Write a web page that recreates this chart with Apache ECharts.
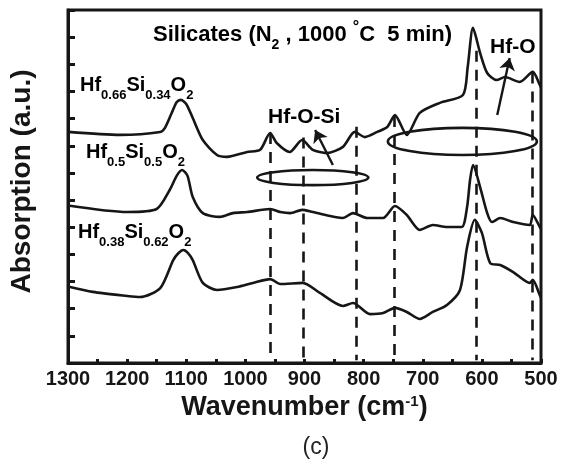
<!DOCTYPE html>
<html><head><meta charset="utf-8">
<script src="https://cdn.jsdelivr.net/npm/echarts/dist/echarts.min.js"></script>
<style>html,body{margin:0;padding:0;background:#fff}#c{width:571px;height:466px}</style>
</head><body><div id="c"></div>
<script>
// ---- data (wavenumber cm^-1, absorption in arbitrary offset units) ----
const topWn = [1300,1212,1144,1136,1124,1116,1109,1100,1089,1072,1048,1031,997,975,958,947,925,904,886,862,835,815,798,777,760,747,727,705,671,632,624,615,603,591,575,561,536,514,502,500];
const topY  = [8.51,8.40,8.51,8.66,9.24,9.61,9.69,9.54,9.02,8.21,7.66,7.59,7.77,7.85,8.47,8.10,7.77,8.21,7.85,7.73,7.96,8.51,8.32,8.51,8.69,9.13,8.40,9.21,9.58,9.87,10.90,12.34,11.42,10.68,10.42,10.53,10.35,10.72,10.24,10.15];
const midWn = [1300,1200,1150,1128,1116,1107,1098,1089,1072,1043,1021,997,958,941,924,904,886,835,818,794,767,747,727,705,683,659,634,625,620,615,603,591,583,569,547,519,514,502,500];
const midY  = [5.80,5.56,5.67,6.37,6.90,7.11,6.90,6.11,5.52,5.38,5.52,5.56,5.67,5.56,5.52,5.64,5.56,5.34,5.52,5.34,5.34,5.78,5.45,4.90,5.08,5.01,5.01,5.75,6.74,7.29,6.48,5.52,5.19,5.34,5.19,5.08,5.45,5.01,4.95];
const botWn = [1300,1258,1200,1178,1144,1122,1113,1105,1097,1089,1072,1048,1014,987,958,941,903,874,835,818,789,767,747,727,705,683,659,637,625,612,600,586,569,547,519,514,502,500];
const botY  = [2.82,2.62,2.47,2.43,2.76,3.79,4.05,4.16,4.05,3.79,2.95,2.69,2.80,2.95,3.09,2.91,2.95,2.58,2.10,2.21,1.80,1.84,2.03,1.88,1.62,1.88,2.14,2.69,4.27,5.27,4.79,3.68,3.61,3.35,2.95,3.06,2.50,2.40];
const seriesNames = ['Hf0.66Si0.34O2','Hf0.5Si0.5O2','Hf0.38Si0.62O2'];
// reference (dashed) lines: wavenumber and top of each dashed line
const dashWn  = [958, 902, 812, 748, 610, 515];
const dashTop = [8.47, 8.3, 8.7, 9.1, 11.5, 10.7];
// annotation arrows [fromWn, fromY, toWn, toY]
const arrowHfOSi = [852, 7.29, 882, 8.58];
const arrowHfO   = [574, 9.13, 553, 11.23];
// annotation ellipses: centre wn, centre y, radius in wn, radius in y
const ellipseWn = [886, 633];
const ellipseY  = [6.83, 8.16];
const ellipseRWn = [94, 126];
const ellipseRY  = [0.28, 0.50];
const xMin = 500, xMax = 1300, xStep = 50;
const yMin = 0, yMax = 13, yStep = 1;

const INK = '#161616';
const FONT = 'Liberation Sans, Arial, sans-serif';
const pairs = (xs, ys) => xs.map((x, i) => [x, ys[i]]);

const base = {fontWeight: 'bold', fontFamily: FONT, color: INK, verticalAlign: 'top'};
const rich = {
  m:  Object.assign({fontSize: 20}, base),
  s:  Object.assign({fontSize: 13, padding: [14, 0, 0, 0]}, base),
  t:  Object.assign({fontSize: 21}, base),
  T:  Object.assign({fontSize: 22, padding: [4, 0, 0, 0]}, base),
  ts: Object.assign({fontSize: 14, padding: [18, 0, 0, 0]}, base),
  tu: Object.assign({fontSize: 16}, base),
  a:  Object.assign({fontSize: 27}, base),
  au: Object.assign({fontSize: 15}, base)
};

const lineSeries = (name, xs, ys) => ({
  name, type: 'line', data: pairs(xs, ys), symbol: 'none', smooth: 0.25,
  lineStyle: {color: INK, width: 2.6}, silent: true, z: 3
});

const chart = echarts.init(document.getElementById('c'), null, {renderer: 'canvas'});
const option = {
  animation: false,
  backgroundColor: '#fff',
  grid: {left: 68, right: 30, top: 10, bottom: 103, show: true, borderColor: INK, borderWidth: 3},
  xAxis: {
    type: 'value', inverse: true, min: xMin, max: xMax, interval: xStep,
    axisLine: {lineStyle: {color: INK, width: 3}},
    axisTick: {inside: true, length: 4, lineStyle: {color: INK, width: 3}},
    axisLabel: {
      margin: 6, color: INK, fontSize: 20, fontWeight: 'bold', fontFamily: FONT,
      showMinLabel: true, showMaxLabel: true,
      formatter: v => (v % 100 === 0 ? String(v) : '')
    },
    splitLine: {show: false},
    name: '{a|Wavenumber (cm}{au|-1}{a|)}', nameLocation: 'middle', nameGap: 22,
    nameTextStyle: {rich}
  },
  yAxis: {
    type: 'value', min: yMin, max: yMax, interval: yStep,
    axisLine: {lineStyle: {color: INK, width: 3}},
    axisTick: {inside: true, length: 7, lineStyle: {color: INK, width: 3}},
    axisLabel: {show: false},
    splitLine: {show: false},
    name: 'Absorption (a.u.)', nameLocation: 'middle', nameGap: 32,
    nameTextStyle: {fontSize: 28, fontWeight: 'bold', fontFamily: FONT, color: INK, padding: [0, 0, 0, 10]}
  },
  series: [
    Object.assign(lineSeries(seriesNames[0], topWn, topY), {
      markLine: {
        silent: true, symbol: 'none', animation: false, label: {show: false},
        lineStyle: {color: INK, width: 2.6, type: [11, 8]},
        emphasis: {disabled: true},
        data: dashWn.map((w, i) => [{coord: [w, dashTop[i]]}, {coord: [w, yMin + 0.1]}])
      }
    }),
    Object.assign(lineSeries(seriesNames[1], midWn, midY), {
      markLine: {
        silent: true, symbol: ['none', 'arrow'], symbolSize: 12, animation: false, label: {show: false},
        lineStyle: {color: INK, width: 2.4, type: 'solid'},
        emphasis: {disabled: true},
        data: [arrowHfOSi, arrowHfO].map(a => [{coord: [a[0], a[1]]}, {coord: [a[2], a[3]]}])
      }
    }),
    lineSeries(seriesNames[2], botWn, botY)
  ]
};
chart.setOption(option);

const txt = (x, y, text) => ({type: 'text', x, y, z: 20, silent: true,
  style: {text, rich, align: 'left', verticalAlign: 'top'}});
const graphics = [
  txt(153, 20, '{T|Silicates (N}{ts|2}{T| , 1000 }{tu|°}{T|C  5 min)}'),
  txt(80, 75, '{m|Hf}{s|0.66}{m|Si}{s|0.34}{m|O}{s|2}'),
  txt(86, 142, '{m|Hf}{s|0.5}{m|Si}{s|0.5}{m|O}{s|2}'),
  txt(78, 222, '{m|Hf}{s|0.38}{m|Si}{s|0.62}{m|O}{s|2}'),
  txt(268, 107, '{t|Hf-O-Si}'),
  txt(490, 37, '{t|Hf-O}'),
  {type: 'text', x: 316, y: 448, z: 20, silent: true,
   style: {text: '(c)', fontSize: 23, fontFamily: FONT, fill: '#222', align: 'center', verticalAlign: 'middle'}}
];
ellipseWn.forEach((w, i) => {
  const c = chart.convertToPixel({gridIndex: 0}, [w, ellipseY[i]]);
  const r = chart.convertToPixel({gridIndex: 0}, [w - ellipseRWn[i], ellipseY[i] + ellipseRY[i]]);
  graphics.push({type: 'ellipse', z: 15, silent: true,
    shape: {cx: c[0], cy: c[1], rx: Math.abs(r[0] - c[0]), ry: Math.abs(c[1] - r[1])},
    style: {fill: 'none', stroke: INK, lineWidth: 2.6}});
});
chart.setOption({graphic: graphics});
</script></body></html>
